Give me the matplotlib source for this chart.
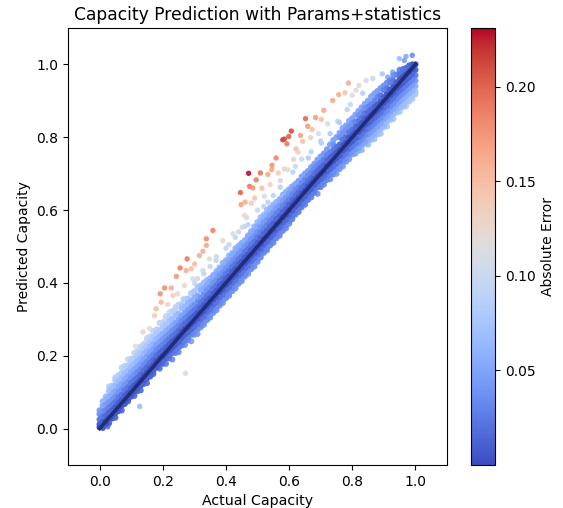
import numpy as np
import matplotlib
matplotlib.use("Agg")
import matplotlib.pyplot as plt

# dense band
band_actual = [0.00, 0.02, 0.04, 0.06, 0.08, 0.10, 0.12, 0.14, 0.16, 0.18,
               0.20, 0.22, 0.24, 0.26, 0.28, 0.30, 0.32, 0.34, 0.36, 0.38,
               0.40, 0.42, 0.44, 0.46, 0.48, 0.50, 0.52, 0.54, 0.56, 0.58,
               0.60, 0.62, 0.64, 0.66, 0.68, 0.70, 0.72, 0.74, 0.76, 0.78,
               0.80, 0.82, 0.84, 0.86, 0.88, 0.90, 0.92, 0.94, 0.96, 0.98, 1.00]
band_predicted = [
    [0.004, 0.012, 0.025, 0.04, 0.05],
    [0.012, 0.02, 0.035, 0.05, 0.065, 0.08, 0.088],
    [0.028, 0.035, 0.05, 0.065, 0.08, 0.095, 0.11, 0.118],
    [0.048, 0.055, 0.07, 0.085, 0.10, 0.115, 0.13, 0.146],
    [0.068, 0.075, 0.09, 0.105, 0.12, 0.135, 0.15, 0.165, 0.172],
    [0.088, 0.095, 0.11, 0.125, 0.14, 0.155, 0.17, 0.185, 0.192],
    [0.103, 0.11, 0.125, 0.14, 0.155, 0.17, 0.185, 0.20, 0.212],
    [0.123, 0.13, 0.145, 0.16, 0.175, 0.19, 0.205, 0.22, 0.232],
    [0.143, 0.15, 0.165, 0.18, 0.195, 0.21, 0.225, 0.24, 0.252],
    [0.168, 0.17, 0.185, 0.20, 0.215, 0.23, 0.245, 0.26, 0.272],
    [0.178, 0.185, 0.20, 0.215, 0.23, 0.245, 0.26, 0.28, 0.292],
    [0.193, 0.20, 0.215, 0.23, 0.245, 0.26, 0.275, 0.295, 0.307],
    [0.208, 0.215, 0.23, 0.245, 0.26, 0.275, 0.29, 0.31, 0.327],
    [0.228, 0.235, 0.25, 0.265, 0.28, 0.295, 0.31, 0.33, 0.342],
    [0.243, 0.25, 0.265, 0.28, 0.295, 0.31, 0.325, 0.345, 0.357],
    [0.258, 0.265, 0.28, 0.295, 0.31, 0.325, 0.34, 0.36, 0.377],
    [0.278, 0.285, 0.30, 0.315, 0.33, 0.345, 0.36, 0.38, 0.392],
    [0.298, 0.305, 0.32, 0.335, 0.35, 0.365, 0.38, 0.395, 0.407],
    [0.318, 0.325, 0.34, 0.355, 0.37, 0.385, 0.40, 0.415, 0.422],
    [0.338, 0.345, 0.36, 0.375, 0.39, 0.405, 0.42, 0.435, 0.442],
    [0.358, 0.365, 0.38, 0.395, 0.41, 0.425, 0.44, 0.455, 0.462],
    [0.378, 0.385, 0.40, 0.415, 0.43, 0.445, 0.46, 0.475, 0.482],
    [0.398, 0.405, 0.42, 0.435, 0.45, 0.465, 0.48, 0.495, 0.502],
    [0.418, 0.425, 0.44, 0.455, 0.47, 0.485, 0.50, 0.517],
    [0.438, 0.445, 0.46, 0.475, 0.49, 0.505, 0.52, 0.535, 0.542],
    [0.458, 0.465, 0.48, 0.495, 0.51, 0.525, 0.54, 0.555, 0.567],
    [0.483, 0.49, 0.505, 0.52, 0.535, 0.55, 0.565, 0.58, 0.587],
    [0.503, 0.51, 0.525, 0.54, 0.555, 0.57, 0.585, 0.60, 0.607],
    [0.523, 0.53, 0.545, 0.56, 0.575, 0.59, 0.605, 0.622],
    [0.543, 0.55, 0.565, 0.58, 0.595, 0.61, 0.625, 0.642],
    [0.563, 0.57, 0.585, 0.60, 0.615, 0.63, 0.645, 0.657],
    [0.588, 0.595, 0.61, 0.625, 0.64, 0.655, 0.672],
    [0.608, 0.615, 0.63, 0.645, 0.66, 0.675, 0.692],
    [0.628, 0.635, 0.65, 0.665, 0.68, 0.695, 0.707],
    [0.648, 0.655, 0.67, 0.685, 0.70, 0.715, 0.727],
    [0.663, 0.67, 0.685, 0.70, 0.715, 0.73, 0.747],
    [0.683, 0.69, 0.705, 0.72, 0.735, 0.75, 0.767],
    [0.698, 0.705, 0.72, 0.735, 0.75, 0.765, 0.78, 0.792],
    [0.713, 0.72, 0.735, 0.75, 0.765, 0.78, 0.80, 0.812],
    [0.733, 0.74, 0.755, 0.77, 0.785, 0.80, 0.82, 0.832],
    [0.753, 0.76, 0.775, 0.79, 0.805, 0.82, 0.84, 0.852],
    [0.763, 0.77, 0.785, 0.80, 0.815, 0.83, 0.845, 0.86, 0.872],
    [0.783, 0.79, 0.805, 0.82, 0.835, 0.85, 0.865, 0.88, 0.892],
    [0.793, 0.80, 0.815, 0.83, 0.845, 0.86, 0.875, 0.89, 0.912],
    [0.808, 0.815, 0.83, 0.845, 0.86, 0.875, 0.89, 0.91, 0.927],
    [0.828, 0.835, 0.85, 0.865, 0.88, 0.895, 0.91, 0.93, 0.942],
    [0.848, 0.855, 0.87, 0.885, 0.90, 0.915, 0.93, 0.95, 0.957],
    [0.868, 0.875, 0.89, 0.905, 0.92, 0.935, 0.95, 0.972],
    [0.883, 0.89, 0.905, 0.92, 0.935, 0.95, 0.965, 0.98, 0.987],
    [0.898, 0.905, 0.92, 0.935, 0.95, 0.965, 0.98, 0.997],
    [0.918, 0.925, 0.94, 0.955, 0.97, 0.985, 1.00],
]

# second pass over the band, columns between the first ones
band2_actual = [0.01, 0.03, 0.05, 0.07, 0.09, 0.11, 0.13, 0.15, 0.17, 0.19,
                0.21, 0.23, 0.25, 0.27, 0.29, 0.31, 0.33, 0.35, 0.37, 0.39,
                0.41, 0.43, 0.45, 0.47, 0.49, 0.51, 0.53, 0.55, 0.57, 0.59,
                0.61, 0.63, 0.65, 0.67, 0.69, 0.71, 0.73, 0.75, 0.77, 0.79,
                0.81, 0.83, 0.85, 0.87, 0.89, 0.91, 0.93, 0.95, 0.97, 0.99]
band2_predicted = [
    [0.002, 0.018, 0.033, 0.048, 0.063, 0.075],
    [0.015, 0.028, 0.043, 0.058, 0.073, 0.088, 0.103, 0.115],
    [0.03, 0.043, 0.058, 0.073, 0.088, 0.103, 0.118, 0.133, 0.14],
    [0.05, 0.063, 0.078, 0.093, 0.108, 0.123, 0.138, 0.153, 0.168],
    [0.075, 0.083, 0.098, 0.113, 0.128, 0.143, 0.158, 0.173, 0.19],
    [0.09, 0.103, 0.118, 0.133, 0.148, 0.163, 0.178, 0.193, 0.208],
    [0.105, 0.118, 0.133, 0.148, 0.163, 0.178, 0.193, 0.208, 0.225],
    [0.125, 0.138, 0.153, 0.168, 0.183, 0.198, 0.213, 0.228, 0.245],
    [0.15, 0.158, 0.173, 0.188, 0.203, 0.218, 0.233, 0.25, 0.268],
    [0.165, 0.178, 0.193, 0.208, 0.223, 0.238, 0.253, 0.27, 0.29],
    [0.178, 0.193, 0.208, 0.223, 0.238, 0.253, 0.268, 0.285, 0.305],
    [0.19, 0.208, 0.223, 0.238, 0.253, 0.268, 0.283, 0.30, 0.322],
    [0.21, 0.223, 0.238, 0.253, 0.268, 0.283, 0.298, 0.315, 0.34],
    [0.23, 0.243, 0.258, 0.273, 0.288, 0.303, 0.318, 0.335, 0.355],
    [0.24, 0.258, 0.273, 0.288, 0.303, 0.318, 0.333, 0.35, 0.372],
    [0.26, 0.273, 0.288, 0.303, 0.318, 0.333, 0.348, 0.365, 0.39],
    [0.285, 0.293, 0.308, 0.323, 0.338, 0.353, 0.368, 0.385, 0.40],
    [0.305, 0.313, 0.328, 0.343, 0.358, 0.373, 0.388, 0.403, 0.413],
    [0.325, 0.333, 0.348, 0.363, 0.378, 0.393, 0.408, 0.423, 0.432],
    [0.345, 0.353, 0.368, 0.383, 0.398, 0.413, 0.428, 0.443, 0.455],
    [0.365, 0.373, 0.388, 0.403, 0.418, 0.433, 0.448, 0.463, 0.475],
    [0.385, 0.393, 0.408, 0.423, 0.438, 0.453, 0.468, 0.483, 0.495],
    [0.405, 0.413, 0.428, 0.443, 0.458, 0.473, 0.488, 0.503, 0.51],
    [0.425, 0.433, 0.448, 0.463, 0.478, 0.493, 0.508, 0.523, 0.53],
    [0.445, 0.453, 0.468, 0.483, 0.498, 0.513, 0.528, 0.543, 0.555],
    [0.47, 0.478, 0.493, 0.508, 0.523, 0.538, 0.553, 0.568, 0.58],
    [0.49, 0.498, 0.513, 0.528, 0.543, 0.558, 0.573, 0.588, 0.60],
    [0.51, 0.518, 0.533, 0.548, 0.563, 0.578, 0.593, 0.608, 0.615],
    [0.53, 0.538, 0.553, 0.568, 0.583, 0.598, 0.613, 0.63],
    [0.55, 0.558, 0.573, 0.588, 0.603, 0.618, 0.633, 0.65],
    [0.575, 0.583, 0.598, 0.613, 0.628, 0.643, 0.658, 0.665],
    [0.595, 0.603, 0.618, 0.633, 0.648, 0.663, 0.68],
    [0.615, 0.623, 0.638, 0.653, 0.668, 0.683, 0.70],
    [0.635, 0.643, 0.658, 0.673, 0.688, 0.703, 0.718],
    [0.645, 0.663, 0.678, 0.693, 0.708, 0.723, 0.738],
    [0.67, 0.678, 0.693, 0.708, 0.723, 0.738, 0.755],
    [0.685, 0.698, 0.713, 0.728, 0.743, 0.758, 0.78],
    [0.70, 0.713, 0.728, 0.743, 0.758, 0.773, 0.80],
    [0.72, 0.733, 0.748, 0.763, 0.778, 0.793, 0.81, 0.825],
    [0.74, 0.753, 0.768, 0.783, 0.798, 0.813, 0.83, 0.845],
    [0.755, 0.768, 0.783, 0.798, 0.813, 0.828, 0.843, 0.862],
    [0.765, 0.778, 0.793, 0.808, 0.823, 0.838, 0.853, 0.868, 0.882],
    [0.78, 0.793, 0.808, 0.823, 0.838, 0.853, 0.868, 0.883, 0.90],
    [0.795, 0.808, 0.823, 0.838, 0.853, 0.868, 0.883, 0.90, 0.92],
    [0.81, 0.823, 0.838, 0.853, 0.868, 0.883, 0.898, 0.915, 0.935],
    [0.83, 0.843, 0.858, 0.873, 0.888, 0.903, 0.918, 0.935, 0.95],
    [0.85, 0.863, 0.878, 0.893, 0.908, 0.923, 0.938, 0.955, 0.97],
    [0.87, 0.883, 0.898, 0.913, 0.928, 0.943, 0.958, 0.973, 0.985],
    [0.885, 0.898, 0.913, 0.928, 0.943, 0.958, 0.973, 0.99],
    [0.905, 0.913, 0.928, 0.943, 0.958, 0.973, 0.988, 1.0],
]

# scattered points outside the band
sparse_actual = [
    0.192, 0.206, 0.227, 0.195, 0.216, 0.243, 0.255, 0.277, 0.274, 0.301,
    0.327, 0.338, 0.359, 0.338, 0.316, 0.290, 0.247, 0.269, 0.179, 0.174,
    0.137, 0.158, 0.114, 0.272, 0.127, 0.026, 0.348, 0.369, 0.327, 0.390,
    0.422, 0.295, 0.338, 0.264, 0.232,
    0.990, 0.970, 0.949, 0.965, 0.928, 0.895, 0.912, 0.844, 0.865, 0.788,
    0.821, 0.777, 0.757, 0.738, 0.800, 0.812, 0.833, 0.710, 0.784, 0.794,
    0.652, 0.684, 0.702, 0.722, 0.754, 0.659, 0.673, 0.607, 0.599, 0.580,
    0.585, 0.593, 0.636, 0.668, 0.693, 0.643, 0.702, 0.622, 0.628, 0.559,
    0.614, 0.661, 0.546, 0.545, 0.533, 0.585, 0.596, 0.566, 0.612, 0.472,
    0.509, 0.496, 0.475, 0.485, 0.514, 0.540, 0.572, 0.572, 0.446, 0.491,
    0.448, 0.461, 0.480, 0.522, 0.533, 0.543, 0.459, 0.466, 0.452,
    # pale fringe just above the band
    0.30, 0.31, 0.33, 0.35, 0.37, 0.40, 0.41, 0.43, 0.44, 0.46, 0.47, 0.50,
    0.52, 0.55, 0.24, 0.22, 0.21, 0.17, 0.15, 0.62, 0.64, 0.67, 0.70, 0.73, 0.76,
]
sparse_predicted = [
    0.370, 0.386, 0.386, 0.347, 0.341, 0.418, 0.441, 0.466, 0.434, 0.452,
    0.487, 0.521, 0.544, 0.503, 0.475, 0.439, 0.370, 0.393, 0.329, 0.310,
    0.265, 0.275, 0.226, 0.152, 0.061, 0.005, 0.466, 0.462, 0.434, 0.516,
    0.535, 0.411, 0.407, 0.356, 0.365,
    1.025, 1.022, 1.016, 1.011, 0.979, 0.974, 0.965, 0.956, 0.961, 0.949,
    0.942, 0.922, 0.917, 0.901, 0.915, 0.929, 0.921, 0.874, 0.876, 0.890,
    0.851, 0.854, 0.849, 0.837, 0.844, 0.830, 0.821, 0.817, 0.802, 0.793,
    0.795, 0.782, 0.805, 0.799, 0.810, 0.789, 0.784, 0.768, 0.759, 0.743,
    0.739, 0.743, 0.723, 0.711, 0.698, 0.713, 0.711, 0.702, 0.704, 0.701,
    0.702, 0.683, 0.665, 0.661, 0.660, 0.670, 0.681, 0.663, 0.648, 0.633,
    0.615, 0.622, 0.619, 0.638, 0.622, 0.604, 0.585, 0.579, 0.553,
    0.40, 0.412, 0.425, 0.445, 0.472, 0.495, 0.505, 0.525, 0.54, 0.555, 0.56, 0.60,
    0.61, 0.64, 0.335, 0.32, 0.31, 0.262, 0.25, 0.72, 0.74, 0.76, 0.79, 0.81, 0.84,
]

x_ticks = [0.0, 0.2, 0.4, 0.6, 0.8, 1.0]
cbar_ticks = [0.05, 0.10, 0.15, 0.20]

rows = band_predicted + band2_predicted
b_actual = np.repeat(band_actual + band2_actual, [len(p) for p in rows])
b_predicted = np.concatenate(rows)
b_error = np.abs(b_actual - b_predicted)
# largest errors first so the small ones end up on top
order = np.argsort(-b_error)
s_error = np.abs(np.array(sparse_actual) - np.array(sparse_predicted))

fig = plt.figure(figsize=(5.63, 5.08), dpi=100)
ax = fig.add_axes([68 / 563, 1 - 465 / 508, 379 / 563, 437 / 508])
cax = fig.add_axes([471 / 563, 1 - 465 / 508, 24 / 563, 437 / 508])

ax.scatter(sparse_actual, sparse_predicted, c=s_error, cmap="coolwarm", vmin=0, vmax=0.231,
           s=15, alpha=0.9, linewidths=0)
sc = ax.scatter(b_actual[order], b_predicted[order], c=b_error[order], cmap="coolwarm",
                vmin=0, vmax=0.231, s=20, linewidths=0)
ax.plot([0, 1], [0, 1], color="#1c2a6e", lw=2.6, alpha=0.9)

ax.set_xlim(-0.1, 1.1)
ax.set_ylim(-0.1, 1.1)
ax.set_xticks(x_ticks)
ax.set_yticks(x_ticks)
ax.set_xlabel("Actual Capacity", fontsize=10.2)
ax.set_ylabel("Predicted Capacity")
ax.set_title("Capacity Prediction with Params+statistics", fontsize=12.3)

cbar = fig.colorbar(sc, cax=cax)
cbar.set_ticks(cbar_ticks)
cbar.set_label("Absolute Error")

fig.savefig("out.png", dpi=100)
